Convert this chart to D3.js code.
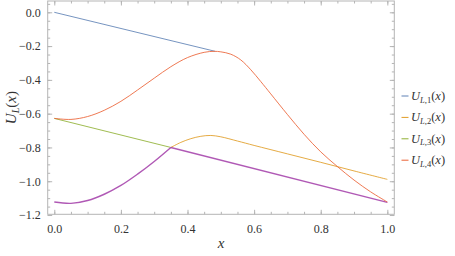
<!DOCTYPE html>
<html>
<head>
<meta charset="utf-8">
<script src="https://cdn.jsdelivr.net/npm/d3@7"></script>
<style>
  body { margin: 0; background: #fff; }
  svg { display: block; }
</style>
</head>
<body>
<div id="chart"></div>
<script>
// values
const u1 = [[0, 0], [0.483, -0.231]];
const u4 = [[0, -0.628], [0.05, -0.634], [0.10, -0.617], [0.15, -0.580], [0.20, -0.527],
            [0.25, -0.460], [0.30, -0.390], [0.35, -0.322], [0.40, -0.268], [0.45, -0.237],
            [0.48, -0.231], [0.50, -0.234], [0.53, -0.248], [0.56, -0.282], [0.59, -0.340],
            [0.62, -0.410], [0.65, -0.483], [0.70, -0.605], [0.75, -0.722], [0.80, -0.826],
            [0.85, -0.913], [0.90, -0.993], [0.95, -1.063], [1.00, -1.123]];
const u3 = [[0, -0.628], [0.35, -0.800]];
const u2 = [[0.35, -0.800], [0.38, -0.770], [0.41, -0.748], [0.44, -0.734], [0.47, -0.729],
            [0.50, -0.737], [0.55, -0.762], [0.60, -0.788], [0.70, -0.838], [0.80, -0.888],
            [0.90, -0.939], [1.00, -0.989]];
const groundCurve = [[0, -1.123], [0.05, -1.131], [0.10, -1.114], [0.15, -1.077], [0.20, -1.025],
                     [0.25, -0.958], [0.30, -0.883], [0.35, -0.800]];
const groundLine = [[0.35, -0.800], [1.00, -1.125]];

const xTicks = [0, 0.2, 0.4, 0.6, 0.8, 1.0];
const yTicks = [0, -0.2, -0.4, -0.6, -0.8, -1.0, -1.2];
const legendNames = ["1", "2", "3", "4"];
const colors = ["#5E81B5", "#E19C24", "#8FB032", "#EB6235"];

const W = 455, H = 256;
const pLeft = 47.7, pRight = 394.3, pTop = 1, pBottom = 214.3;
const serif = "Liberation Serif";

const svg = d3.select("#chart").append("svg")
    .attr("width", W)
    .attr("height", H)
    .style("font-family", serif);

const x = d3.scaleLinear().domain([-0.0198, 1.0209]).range([pLeft, pRight]);
const y = d3.scaleLinear().domain([0.0669, -1.1957]).range([pTop, pBottom]);

const fmt = d => (d < 0 ? "\u2212" : "") + Math.abs(d).toFixed(1);
const minorX = d3.range(0, 1.0001, 0.05);
const minorY = d3.range(-1.2, 0.0501, 0.05);
const frameColor = "#b5b5b5";

function styleAxis(g) {
    g.attr("font-family", null);
    g.select(".domain").remove();
    g.selectAll("line").attr("stroke", frameColor);
    g.selectAll("text")
        .attr("fill", "#333")
        .style("font-family", serif)
        .style("font-size", "12px");
}

// minor ticks on all four sides
svg.append("g").attr("transform", `translate(0,${pBottom})`)
    .call(d3.axisBottom(x).tickValues(minorX).tickSize(-2.5).tickFormat("")).call(styleAxis);
svg.append("g").attr("transform", `translate(0,${pTop})`)
    .call(d3.axisTop(x).tickValues(minorX).tickSize(-2.5).tickFormat("")).call(styleAxis);
svg.append("g").attr("transform", `translate(${pLeft},0)`)
    .call(d3.axisLeft(y).tickValues(minorY).tickSize(-2.5).tickFormat("")).call(styleAxis);
svg.append("g").attr("transform", `translate(${pRight},0)`)
    .call(d3.axisRight(y).tickValues(minorY).tickSize(-2.5).tickFormat("")).call(styleAxis);

// major ticks
svg.append("g").attr("transform", `translate(0,${pBottom})`)
    .call(d3.axisBottom(x).tickValues(xTicks).tickSize(-4.5).tickPadding(10).tickFormat(fmt))
    .call(styleAxis);
svg.append("g").attr("transform", `translate(0,${pTop})`)
    .call(d3.axisTop(x).tickValues(xTicks).tickSize(-4.5).tickFormat("")).call(styleAxis);
svg.append("g").attr("transform", `translate(${pLeft},0)`)
    .call(d3.axisLeft(y).tickValues(yTicks).tickSize(-4.5).tickPadding(7).tickFormat(fmt))
    .call(styleAxis);
svg.append("g").attr("transform", `translate(${pRight},0)`)
    .call(d3.axisRight(y).tickValues(yTicks).tickSize(-4.5).tickFormat("")).call(styleAxis);

// frame
svg.append("rect")
    .attr("x", pLeft).attr("y", pTop)
    .attr("width", pRight - pLeft).attr("height", pBottom - pTop)
    .attr("fill", "none")
    .attr("stroke", frameColor)
    .attr("stroke-width", 1);

svg.append("clipPath").attr("id", "clip")
    .append("rect")
    .attr("x", pLeft).attr("y", pTop)
    .attr("width", pRight - pLeft).attr("height", pBottom - pTop);

const line = d3.line()
    .x(d => x(d[0]))
    .y(d => y(d[1]))
    .curve(d3.curveCatmullRom.alpha(0.5));

const plot = svg.append("g").attr("clip-path", "url(#clip)");

const series = [
    {data: u1, color: colors[0], w: 1},
    {data: u2, color: colors[1], w: 1},
    {data: u3, color: colors[2], w: 1},
    {data: groundCurve, color: "#A23CA8", w: 1.4},
    {data: groundLine, color: "#A23CA8", w: 1.4},
    {data: u4, color: colors[3], w: 1}
];

series.forEach(s => {
    plot.append("path")
        .datum(s.data)
        .attr("d", line)
        .attr("fill", "none")
        .attr("stroke", s.color)
        .attr("stroke-width", s.w)
        .attr("stroke-opacity", 0.85);
});

// axis labels
svg.append("text")
    .attr("x", (pLeft + pRight) / 2)
    .attr("y", 248)
    .attr("text-anchor", "middle")
    .style("font-family", serif)
    .style("font-size", "15px")
    .style("font-style", "italic")
    .attr("fill", "#333")
    .text("x");

const yl = svg.append("text")
    .attr("transform", `translate(16,${(pTop + pBottom) / 2}) rotate(-90)`)
    .attr("text-anchor", "middle")
    .style("font-family", serif)
    .style("font-size", "15px")
    .attr("fill", "#333");
yl.append("tspan").style("font-style", "italic").text("U");
yl.append("tspan").attr("dy", 3).style("font-size", "10px").style("font-style", "italic").text("L");
yl.append("tspan").attr("dy", -3).text("(");
yl.append("tspan").style("font-style", "italic").text("x");
yl.append("tspan").text(")");

// legend
const legend = svg.append("g").attr("transform", "translate(401.5,96)");
legendNames.forEach((n, i) => {
    const g = legend.append("g").attr("transform", `translate(0,${i * 21.4})`);
    g.append("line")
        .attr("x1", 0).attr("x2", 7)
        .attr("stroke", colors[i])
        .attr("stroke-width", 1);
    const t = g.append("text")
        .attr("x", 9.5)
        .attr("y", 4)
        .style("font-family", serif)
        .style("font-size", "12.5px")
        .attr("fill", "#333");
    t.append("tspan").style("font-style", "italic").text("U");
    t.append("tspan").attr("dy", 2.5).style("font-size", "8.5px").style("font-style", "italic").text("L");
    t.append("tspan").style("font-size", "8.5px").text("," + n);
    t.append("tspan").attr("dy", -2.5).text("(");
    t.append("tspan").style("font-style", "italic").text("x");
    t.append("tspan").text(")");
});
</script>
</body>
</html>
